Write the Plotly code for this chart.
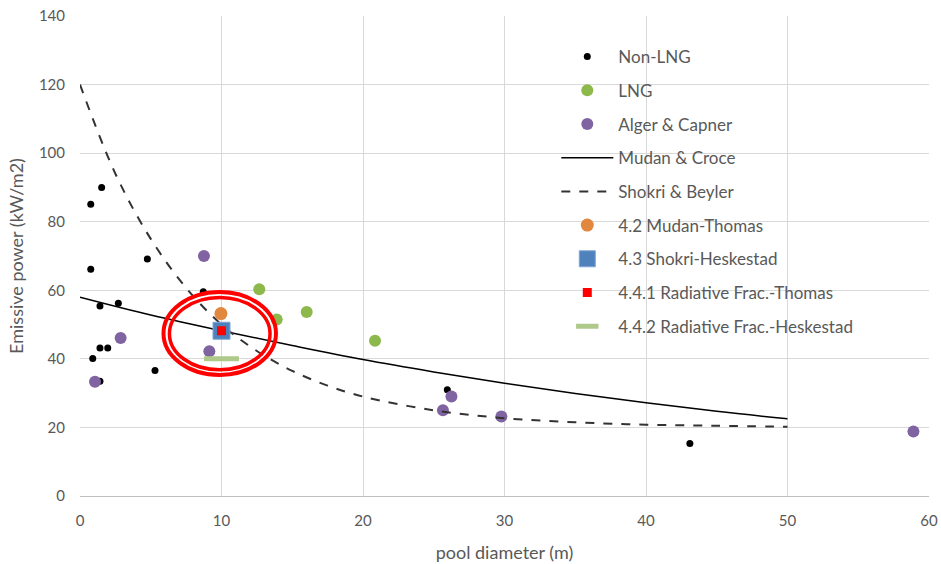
import plotly.graph_objects as go

# ---- data ----
nonlng_x = [0.76, 1.53, 0.76, 4.76, 1.41, 2.71, 1.41, 1.96, 0.90, 5.30, 1.41, 8.71, 25.96, 43.1]
nonlng_y = [85.1, 90.0, 66.1, 69.1, 55.4, 56.2, 43.2, 43.2, 40.1, 36.6, 33.5, 59.6, 31.0, 15.3]

lng_x = [12.67, 13.9, 16.02, 20.85]
lng_y = [60.3, 51.5, 53.7, 45.3]

alger_x = [8.76, 2.87, 9.14, 1.06, 26.25, 25.65, 29.78, 58.9]
alger_y = [70.0, 46.1, 42.2, 33.3, 29.0, 25.0, 23.2, 18.8]

mudan_croce_x = [0, 5, 10, 15, 20, 25, 30, 35, 40, 45, 50]
mudan_croce_y = [58.0, 52.8, 48.2, 43.9, 39.8, 36.2, 32.9, 29.9, 27.2, 24.7, 22.5]

shokri_beyler_x = [0, 2.5, 5, 7.5, 10, 12.5, 15, 17.5, 20, 25, 30, 35, 40, 45, 50]
shokri_beyler_y = [120, 94, 75, 60.7, 50, 42.3, 36.5, 32.2, 29, 25, 22.7, 21.5, 20.8, 20.5, 20.2]

mudan_thomas_x = [9.96]
mudan_thomas_y = [53.2]
shokri_heskestad_x = [10.0]
shokri_heskestad_y = [48.2]
radfrac_thomas_x = [10.0]
radfrac_thomas_y = [48.2]
radfrac_heskestad_x = [10.0]
radfrac_heskestad_y = [40.0]

x_ticks = [0, 10, 20, 30, 40, 50, 60]
y_ticks = [0, 20, 40, 60, 80, 100, 120, 140]

FONT = "Lato"
GRAY = "#595959"

fig = go.Figure()

fig.add_trace(go.Scatter(x=nonlng_x, y=nonlng_y, mode="markers", name="Non-LNG",
                         legendgroup="a",
                         marker=dict(color="#000000", size=7)))
fig.add_trace(go.Scatter(x=lng_x, y=lng_y, mode="markers", name="LNG",
                         legendgroup="b",
                         marker=dict(color="#8DB84C", size=12)))
fig.add_trace(go.Scatter(x=alger_x, y=alger_y, mode="markers", name="Alger & Capner",
                         legendgroup="c",
                         marker=dict(color="#8064A2", size=12)))
fig.add_trace(go.Scatter(x=mudan_croce_x, y=mudan_croce_y, mode="lines", name="Mudan & Croce",
                         legendgroup="d", line=dict(color="#000000", width=1.5, shape="spline")))
fig.add_trace(go.Scatter(x=shokri_beyler_x, y=shokri_beyler_y, mode="lines", name="Shokri & Beyler",
                         legendgroup="e",
                         line=dict(color="#333333", width=2, dash="dash", shape="spline")))
fig.add_trace(go.Scatter(x=mudan_thomas_x, y=mudan_thomas_y, mode="markers", name="4.2 Mudan-Thomas",
                         legendgroup="f",
                         marker=dict(color="#E2873E", size=13)))
fig.add_trace(go.Scatter(x=shokri_heskestad_x, y=shokri_heskestad_y, mode="markers",
                         name="4.3 Shokri-Heskestad", legendgroup="g",
                         marker=dict(color="#4F81BD", size=17, symbol="square",
                                     line=dict(color="#7FA6D6", width=1))))
fig.add_trace(go.Scatter(x=radfrac_thomas_x, y=radfrac_thomas_y, mode="markers",
                         name="4.4.1 Radiative Frac.-Thomas", legendgroup="h",
                         marker=dict(color="#FF0000", size=9, symbol="square")))
fig.add_trace(go.Scatter(x=radfrac_heskestad_x, y=radfrac_heskestad_y, mode="markers",
                         name="4.4.2 Radiative Frac.-Heskestad", legendgroup="i",
                         marker=dict(color="#AFC98A", size=25, symbol="line-ew",
                                     line=dict(color="#AFC98A", width=5))))

# red double ellipse highlight
fig.add_shape(type="circle", xref="x", yref="y", x0=5.90, x1=13.85, y0=35.3, y1=59.5,
              line=dict(color="#FF0000", width=4))
fig.add_shape(type="circle", xref="x", yref="y", x0=6.32, x1=13.43, y0=36.8, y1=57.9,
              line=dict(color="#FF0000", width=3.5))

fig.update_layout(
    width=941, height=564,
    margin=dict(l=80, r=12, t=16, b=68),
    paper_bgcolor="white", plot_bgcolor="white",
    font=dict(family=FONT, size=14, color=GRAY),
    showlegend=True,
    legend=dict(x=0.561, y=0.952, xanchor="left", yanchor="top",
                bgcolor="rgba(0,0,0,0)", traceorder="grouped", tracegroupgap=8.6,
                font=dict(family=FONT, size=17, color=GRAY), itemwidth=52),
    xaxis=dict(range=[0, 60], tickvals=x_ticks, ticktext=[str(v) for v in x_ticks],
               automargin=False, ticklabeloverflow="allow",
               showgrid=True, gridcolor="#D9D9D9", gridwidth=1, zeroline=False,
               showline=True, linecolor="#BFBFBF", linewidth=1, ticks="",
               ticklabelstandoff=11,
               tickfont=dict(family=FONT, size=15, color=GRAY),
               title=dict(text="pool diameter (m)", font=dict(family=FONT, size=18, color=GRAY),
                          standoff=18)),
    yaxis=dict(range=[0, 140], tickvals=y_ticks, ticktext=[str(v) for v in y_ticks],
               automargin=False, ticklabeloverflow="allow",
               showgrid=True, gridcolor="#D9D9D9", gridwidth=1, zeroline=False,
               showline=False, ticks="",
               ticklabelstandoff=14,
               tickfont=dict(family=FONT, size=15, color=GRAY),
               title=dict(text="Emissive power (kW/m2)", font=dict(family=FONT, size=18, color=GRAY),
                          standoff=10)),
)

# remove the default 8px page margin so the 941x564 figure fills the window exactly
fig.write_html("out.html", config={"displayModeBar": False},
               post_script="document.body.style.margin='0';document.body.style.overflow='hidden';")
